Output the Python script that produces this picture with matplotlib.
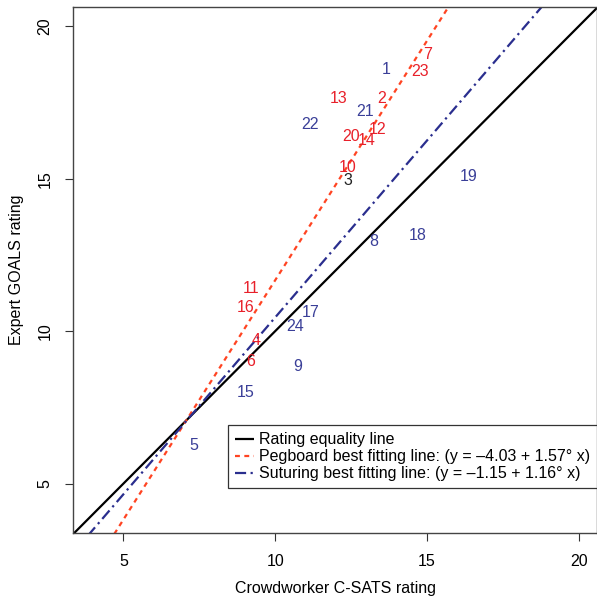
import numpy as np
import matplotlib
matplotlib.use("Agg")
import matplotlib.pyplot as plt

plt.rcParams['font.family'] = ['Liberation Sans', 'DejaVu Sans']

# label, crowd (x), expert (y)
peg_ids = ['7', '23', '2', '13', '12', '20', '14', '10', '11', '16', '4', '6']
peg_x = [15.03, 14.77, 13.52, 12.08, 13.36, 12.51, 13.03, 12.38, 9.20, 9.03, 9.36, 9.20]
peg_y = [19.07, 18.51, 17.62, 17.62, 16.61, 16.38, 16.25, 15.36, 11.39, 10.77, 9.69, 9.00]

sut_ids = ['1', '21', '22', '19', '8', '18', '17', '24', '9', '15', '5']
sut_x = [13.66, 12.97, 11.16, 16.38, 13.23, 14.70, 11.16, 10.64, 10.74, 9.03, 7.33]
sut_y = [18.57, 17.20, 16.77, 15.07, 12.93, 13.13, 10.61, 10.15, 8.84, 7.98, 6.24]

other_ids = ['3']
other_x = [12.38]
other_y = [14.93]

peg_fit = (-4.03, 1.57)
sut_fit = (-1.15, 1.16)

red_txt = '#e8202a'
red_line = '#ff4422'
blue_txt = '#3a3f98'
blue_line = '#2a2e8e'

fig = plt.figure(figsize=(5.97, 5.96), dpi=100)
ax = fig.add_axes([0.1228, 0.1057, 0.8772, 0.8821])
xlim = (3.35, 20.6)
ylim = (3.38, 20.62)
ax.set_xlim(*xlim)
ax.set_ylim(*ylim)

xs = np.array(xlim)
l1, = ax.plot(xs, xs, color='black', lw=1.6, solid_capstyle='butt')
l2, = ax.plot(xs, peg_fit[0] + peg_fit[1] * xs, color=red_line, lw=1.6,
              dashes=(2.2, 2.0))
l3, = ax.plot(xs, sut_fit[0] + sut_fit[1] * xs, color=blue_line, lw=1.6,
              dashes=(5.0, 2.0, 1.0, 2.0))

fs = 11.5
for t, x, y in zip(peg_ids, peg_x, peg_y):
    ax.text(x, y, t, color=red_txt, fontsize=fs, ha='center', va='center')
for t, x, y in zip(sut_ids, sut_x, sut_y):
    ax.text(x, y, t, color=blue_txt, fontsize=fs, ha='center', va='center')
for t, x, y in zip(other_ids, other_x, other_y):
    ax.text(x, y, t, color='#222222', fontsize=fs, ha='center', va='center')

ax.set_xticks([5, 10, 15, 20])
ax.set_yticks([5, 10, 15, 20])
ax.tick_params(labelsize=11.5, length=6, width=0.8, color='#333333', pad=9)
for lab in ax.get_yticklabels():
    lab.set_rotation(90)
    lab.set_va('center')
for s in ax.spines.values():
    s.set_color('#444444')
    s.set_linewidth(1.0)

ax.set_xlabel('Crowdworker C-SATS rating', fontsize=11.5, labelpad=9)
ax.set_ylabel('Expert GOALS rating', fontsize=11.5, labelpad=10)

leg = ax.legend([l1, l2, l3],
                ['Rating equality line',
                 'Pegboard best fitting line: (y = \u20134.03 + 1.57\u00b0 x)',
                 'Suturing best fitting line: (y = \u20131.15 + 1.16\u00b0 x)'],
                loc='lower right', bbox_to_anchor=(1.0, 0.085), fontsize=11.5,
                handlelength=1.2, handletextpad=0.3, borderpad=0.45,
                borderaxespad=0.0, labelspacing=0.12, fancybox=False,
                framealpha=1)
leg.get_frame().set_edgecolor('#333333')
leg.get_frame().set_linewidth(0.9)

fig.savefig('out.png', dpi=100)
